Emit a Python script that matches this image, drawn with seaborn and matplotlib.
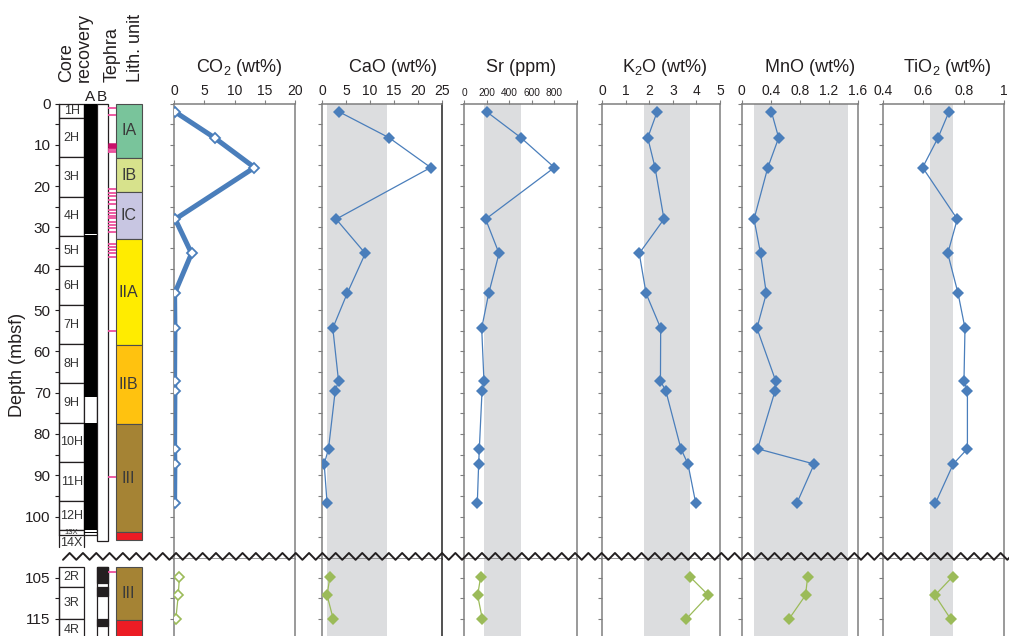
import numpy as np
import matplotlib
matplotlib.use("Agg")
import matplotlib.pyplot as plt
from matplotlib.patches import Rectangle
from matplotlib.lines import Line2D
import seaborn as sns

sns.set_style("white")
plt.rcParams["font.family"] = ["Liberation Sans", "DejaVu Sans"]
plt.rcParams["mathtext.fontset"] = "custom"
plt.rcParams["mathtext.rm"] = "Liberation Sans"
plt.rcParams["mathtext.default"] = "regular"

# ---------------- data ----------------
# sample depths (mbsf), APC/XCB interval and RCB interval below the break
depth_upper = [2.0, 8.3, 15.5, 28.0, 36.3, 46.0, 54.4, 67.2, 69.6, 83.6, 87.3, 96.8]
depth_lower = [104.8, 109.3, 115.1]

co2_upper = [0.15, 6.7, 13.3, 0.2, 2.9, 0.1, 0.15, 0.1, 0.15, 0.1, 0.15, 0.1]
co2_lower = [0.9, 0.7, 0.3]
cao_upper = [3.5, 14.0, 22.7, 2.9, 9.0, 5.2, 2.2, 3.4, 2.7, 1.3, 0.4, 1.0]
cao_lower = [1.6, 1.0, 2.3]
sr_upper = [201, 506, 802, 192, 311, 219, 157, 177, 160, 136, 130, 118]
sr_lower = [148, 121, 163]
k2o_upper = [2.33, 1.93, 2.24, 2.62, 1.57, 1.86, 2.48, 2.47, 2.70, 3.34, 3.64, 3.97]
k2o_lower = [3.72, 4.51, 3.56]
mno_upper = [0.41, 0.51, 0.36, 0.17, 0.26, 0.34, 0.21, 0.47, 0.46, 0.22, 1.00, 0.76]
mno_lower = [0.91, 0.88, 0.65]
tio2_upper = [0.727, 0.673, 0.597, 0.768, 0.721, 0.772, 0.806, 0.801, 0.818, 0.818, 0.748, 0.660]
tio2_lower = [0.745, 0.658, 0.736]

panel_titles = ["CO$_2$ (wt%)", "CaO (wt%)", "Sr (ppm)", "K$_2$O (wt%)", "MnO (wt%)", "TiO$_2$ (wt%)"]
panel_xlims = [(0, 20), (0, 25), (0, 1000), (0, 5), (0, 1.6), (0.4, 1.0)]
panel_ticks = [[0, 5, 10, 15, 20], [0, 5, 10, 15, 20, 25], [0, 200, 400, 600, 800, 1000],
               [0, 1, 2, 3, 4, 5], [0, 0.4, 0.8, 1.2, 1.6], [0.4, 0.6, 0.8, 1.0]]
panel_ticklabels = [["0", "5", "10", "15", "20"], ["0", "5", "10", "15", "20", "25"],
                    ["0", "200", "400", "600", "800", ""], ["0", "1", "2", "3", "4", "5"],
                    ["0", "0.4", "0.8", "1.2", "1.6"], ["0.4", "0.6", "0.8", "1"]]
# reference range (grey band) for each component
band_low = [None, 1.0, 178, 1.77, 0.176, 0.633]
band_high = [None, 13.6, 503, 3.72, 1.46, 0.745]

# core sections, Hole A (upper) and RCB cores (lower)
core_names = ["1H", "2H", "3H", "4H", "5H", "6H", "7H", "8H", "9H", "10H", "11H", "12H", "13X"]
core_top = [0, 3.6, 13.0, 22.6, 32.1, 39.4, 48.8, 58.3, 67.7, 77.3, 86.8, 96.3, 103.3]
core_base = [3.6, 13.0, 22.6, 32.1, 39.4, 48.8, 58.3, 67.7, 77.3, 86.8, 96.3, 103.3, 104.6]
rcb_names = ["2R", "3R", "4R"]
rcb_top = [102.4, 107.2, 115.1]
rcb_base = [107.2, 115.1, 125.0]

# recovered intervals
recA_top = [0, 31.95, 77.3, 96.1, 103.7]
recA_base = [31.7, 71.0, 95.9, 103.2, 103.95]
recB_top = [102.4, 107.2, 115.1]
recB_base = [106.25, 109.5, 116.7]

# tephra layers
tephra_depths = [1.2, 2.8, 11.0, 11.4, 11.8, 20.8, 21.6, 22.4, 23.4, 24.3, 25.8, 26.6, 27.2,
                 27.8, 28.6, 29.4, 30.2, 31.0, 33.9, 34.7, 35.5, 36.3, 37.1, 55.2, 90.4]
tephra_thick = [9.7, 10.0, 10.3, 10.6]
tephra_lower = [103.6]

# lithologic units
lith_names = ["IA", "IB", "IC", "IIA", "IIB", "III", ""]
lith_top = [0, 13.3, 21.5, 32.9, 58.5, 77.7, 103.7]
lith_base = [13.3, 21.5, 32.9, 58.5, 77.7, 103.7, 105.7]
lith_colors = ["#79C49B", "#D7E28C", "#C8C6E2", "#FFEC00", "#FFC20F", "#A58334", "#EC1C24"]
lith_lower_names = ["III", ""]
lith_lower_top = [102.4, 115.2]
lith_lower_base = [115.2, 125.0]
lith_lower_colors = ["#A58334", "#EC1C24"]

# ---------------- layout ----------------
W, H = 1009, 636
fig = plt.figure(figsize=(W / 100, H / 100), dpi=100)
fig.patch.set_facecolor("white")

Y_TOP, Y_BREAK, Y_BOT = 103.5, 559.0, 636.0
PX_PER_M = 4.13
UP_BOTTOM = (Y_BREAK - Y_TOP) / PX_PER_M
LO_TOP = 105 - (577.5 - Y_BREAK) / PX_PER_M
LO_BOTTOM = LO_TOP + (Y_BOT - Y_BREAK) / PX_PER_M

BLUE = "#4A7EBB"
GREEN = "#9BBB59"
BAND = "#DCDDDF"
SPINE = "#7F7F7F"
INK = "#231F20"
PINK = "#EC4E9C"


def px_axes(x0, y0, x1, y1):
    return fig.add_axes([x0 / W, 1 - y1 / H, (x1 - x0) / W, (y1 - y0) / H])


panel_px = [(174, 295), (322.3, 441.7), (464, 576.7), (602.3, 720), (741.7, 857.7), (882.7, 1004.3)]
title_x = [239, 393, 521, 665, 810, 947.5]
upper_vals = [co2_upper, cao_upper, sr_upper, k2o_upper, mno_upper, tio2_upper]
lower_vals = [co2_lower, cao_lower, sr_lower, k2o_lower, mno_lower, tio2_lower]

for i in range(6):
    x0, x1 = panel_px[i]
    ax_u = px_axes(x0, Y_TOP, x1, Y_BREAK)
    ax_l = px_axes(x0, Y_BREAK, x1, Y_BOT)
    for ax in (ax_u, ax_l):
        ax.set_facecolor("white")
        if band_low[i] is not None:
            ax.axvspan(band_low[i], band_high[i], color=BAND, lw=0, zorder=0)
    hollow = i == 0
    sns.lineplot(x=upper_vals[i], y=depth_upper, ax=ax_u, orient="y", sort=False,
                 estimator=None, color=BLUE, lw=3.6 if hollow else 0.9,
                 marker="D", markersize=5.4 if hollow else 6.4,
                 markerfacecolor="white" if hollow else BLUE,
                 markeredgecolor=BLUE, markeredgewidth=1.3 if hollow else 0, zorder=3)
    sns.lineplot(x=lower_vals[i], y=depth_lower, ax=ax_l, orient="y", sort=False,
                 estimator=None, color=GREEN, lw=0.9,
                 marker="D", markersize=5.4 if hollow else 6.4,
                 markerfacecolor="white" if hollow else GREEN,
                 markeredgecolor=GREEN, markeredgewidth=1.2 if hollow else 0, zorder=3)

    for ax in (ax_u, ax_l):
        ax.set_xlim(*panel_xlims[i])
        ax.set_xlabel("")
        ax.set_ylabel("")
        for s in ax.spines.values():
            s.set_color(SPINE)
            s.set_linewidth(1.1)
        ax.spines["right"].set_color("#222222" if i == 1 else SPINE)
        ax.tick_params(axis="y", which="both", left=True, right=False, labelleft=False,
                       direction="out", length=2.8, width=0.8, color=SPINE)
    ax_u.set_ylim(UP_BOTTOM, 0)
    ax_u.set_yticks(np.arange(0, 111, 5))
    ax_u.xaxis.tick_top()
    ax_u.set_xticks(panel_ticks[i])
    ax_u.set_xticklabels(panel_ticklabels[i])
    ax_u.tick_params(axis="x", top=True, bottom=False, labeltop=True, labelbottom=False,
                     direction="out", length=2.8, width=0.8, color=SPINE, pad=1.5,
                     labelsize=7.3 if i == 2 else 10, labelcolor=INK)
    ax_l.set_ylim(LO_BOTTOM, LO_TOP)
    ax_l.set_yticks([105, 110, 115])
    ax_l.set_xticks([])
    ax_l.spines["top"].set_visible(False)
    ax_l.spines["bottom"].set_visible(False)

    fig.text(title_x[i] / W, 1 - 72 / H, panel_titles[i], ha="center", va="baseline",
             fontsize=13, color=INK)

# ---------------- core / tephra / lithology columns ----------------
X_SEC = (59, 84.3)
X_A = (84.3, 96.7)
X_B = (96.7, 108.3)
X_TEPH = (108.3, 115.5)
X_LITH = (115.7, 141.7)

axL_u = px_axes(59, Y_TOP, 142, Y_BREAK)
axL_l = px_axes(59, Y_BREAK, 142, Y_BOT)
for ax, lim in ((axL_u, (UP_BOTTOM, 0)), (axL_l, (LO_BOTTOM, LO_TOP))):
    ax.set_xlim(59, 142)
    ax.set_ylim(*lim)
    ax.set_facecolor("none")
    for s in ("top", "right", "bottom"):
        ax.spines[s].set_visible(False)
    ax.spines["left"].set_color(INK)
    ax.spines["left"].set_linewidth(0.9)
    ax.set_xticks([])
    ax.tick_params(axis="y", which="both", left=True, direction="out", length=3,
                   width=0.8, color=INK, pad=3, labelsize=11, labelcolor=INK)


def rect(ax, xr, top, base, fc, ec=INK, lw=0.9, z=2):
    ax.add_patch(Rectangle((xr[0], top), xr[1] - xr[0], base - top, facecolor=fc,
                           edgecolor=ec, lw=lw, zorder=z, clip_on=False))


# upper column
axL_u.spines["left"].set_bounds(0, 104.6)
axL_u.set_yticks(np.arange(0, 101, 10))
axL_u.set_yticks(np.arange(5, 100, 10), minor=True)
for name, t, b in zip(core_names, core_top, core_base):
    rect(axL_u, X_SEC, t, b, "white")
    axL_u.text(sum(X_SEC) / 2, (t + b) / 2, name, ha="center", va="center",
               fontsize=5.5 if name == "13X" else 9, color="#333333", zorder=4, clip_on=False)
# 14X: open-ended section below the axis end
axL_u.plot([X_SEC[0], X_SEC[0]], [104.6, 107.3], color=INK, lw=0.9, clip_on=False)
axL_u.plot([X_SEC[1], X_SEC[1]], [104.6, 107.3], color=INK, lw=0.9, clip_on=False)
axL_u.text(sum(X_SEC) / 2, 106.3, "14X", ha="center", va="center", fontsize=9,
           color="#333333", clip_on=False)

rect(axL_u, X_A, 0, 104.6, "white")
for t, b in zip(recA_top, recA_base):
    rect(axL_u, X_A, t, b, "black", ec="none", lw=0, z=3)
rect(axL_u, X_B, 0, 106.0, "white")
axL_u.hlines(tephra_depths, *X_TEPH, color=PINK, lw=1.3, zorder=3, clip_on=False)
axL_u.hlines(tephra_thick, *X_TEPH, color="#C8106A", lw=1.8, zorder=3, clip_on=False)
for name, t, b, c in zip(lith_names, lith_top, lith_base, lith_colors):
    rect(axL_u, X_LITH, t, b, c, ec="#4D4D4D", lw=0.8)
    if name:
        axL_u.text(sum(X_LITH) / 2, (t + b) / 2, name, ha="center", va="center",
                   fontsize=11.5, color="#3A3A3A", zorder=4)

# lower column
axL_l.spines["left"].set_bounds(rcb_top[0], LO_BOTTOM)
axL_l.set_yticks([105, 110, 115])
axL_l.set_yticklabels(["105", "", "115"])
for name, t, b in zip(rcb_names, rcb_top, rcb_base):
    rect(axL_l, X_SEC, t, b, "white")
    axL_l.text(sum(X_SEC) / 2, (t + min(b, LO_BOTTOM + 1.2)) / 2, name, ha="center",
               va="center", fontsize=9, color="#333333", zorder=4)
rect(axL_l, X_B, rcb_top[0], 125.0, "white")
for t, b in zip(recB_top, recB_base):
    rect(axL_l, X_B, t, b, INK, ec=INK, lw=0.9, z=3)
axL_l.hlines(tephra_lower, X_TEPH[0], X_LITH[0], color=PINK, lw=1.3, zorder=3)
for name, t, b, c in zip(lith_lower_names, lith_lower_top, lith_lower_base, lith_lower_colors):
    rect(axL_l, X_LITH, t, b, c, ec="#4D4D4D", lw=0.8)
    if name:
        axL_l.text(sum(X_LITH) / 2, (t + b) / 2, name, ha="center", va="center",
                   fontsize=11.5, color="#3A3A3A", zorder=4)

# ---------------- headers ----------------
def ftext(x, y, s, **kw):
    fig.text(x / W, 1 - y / H, s, color=INK, **kw)


ftext(66.5, 82, "Core", rotation=90, ha="center", va="bottom", fontsize=13)
ftext(84.5, 82, "recovery", rotation=90, ha="center", va="bottom", fontsize=13)
ftext(112, 82, "Tephra", rotation=90, ha="center", va="bottom", fontsize=13)
ftext(135, 82, "Lith. unit", rotation=90, ha="center", va="bottom", fontsize=13)
ftext(90, 97, "A", ha="center", va="center", fontsize=11)
ftext(102, 97, "B", ha="center", va="center", fontsize=11)
ftext(18, 364.5, "Depth (mbsf)", rotation=90, ha="center", va="center", fontsize=13)

# ---------------- break line ----------------
half = 13.3 / 2
xs = np.arange(63, W + half, half)
ys = np.where(np.arange(len(xs)) % 2 == 0, 559.8, 553.0)
fig.add_artist(Line2D(xs / W, 1 - ys / H, transform=fig.transFigure, color=INK,
                      lw=1.4, zorder=20, clip_on=False))

fig.savefig("out.png", dpi=100, facecolor="white")
